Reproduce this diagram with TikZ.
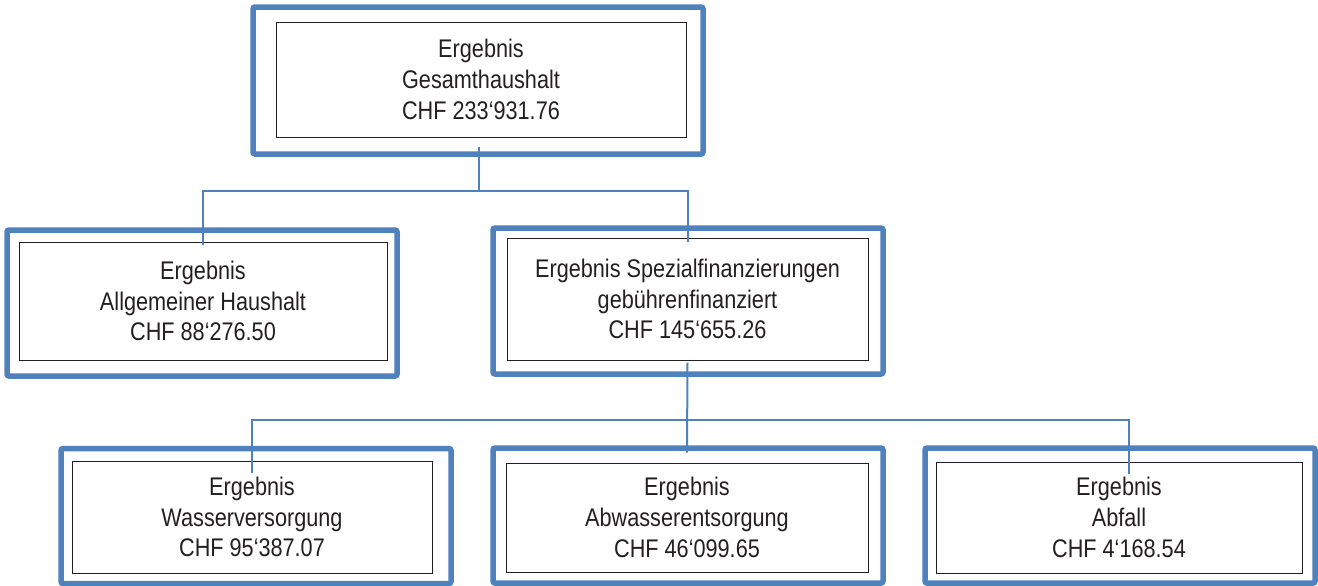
\documentclass[tikz,border=0pt]{standalone}
\usepackage{fontspec}
\setmainfont{Liberation Sans}[FakeStretch=0.85]
\usepackage{tikz}
\usetikzlibrary{calc}
\definecolor{rahmenblau}{HTML}{4F81BD}
\definecolor{tinte}{HTML}{231F20}

\begin{document}
\begin{tikzpicture}[x=0.5pt,y=-0.5pt,
  rahmen/.style={draw=rahmenblau, line width=2.75pt, rounded corners=1pt, inner sep=0pt, minimum width=195pt},
  feld/.style={draw=tinte, line width=0.5pt, text=tinte, align=center, inner sep=0pt,
    font=\fontsize{12.75}{15.4}\selectfont},
  linie/.style={draw=rahmenblau, line width=1pt}]
  \useasboundingbox (0,0) rectangle (1318,585);
  % Gesamthaushalt
  \node[rahmen, minimum width=225pt, minimum height=73.5pt] (gesamtR) at (478,80.5) {};
  \node[feld, minimum width=205pt, minimum height=57.5pt] (gesamt) at (481,79.5)
    {Ergebnis\\Gesamthaushalt\\CHF 233‘931.76};
  % zweite Ebene
  \node[rahmen, minimum height=73pt] (allgR) at (202,303) {};
  \node[feld, minimum width=184pt, minimum height=59pt] (allg) at (203,301)
    {Ergebnis\\Allgemeiner Haushalt\\CHF 88‘276.50};
  \node[rahmen, minimum height=73pt] (spezR) at (688,301) {};
  \node[feld, minimum width=180.5pt, minimum height=61pt] (spez) at (687.5,299)
    {Ergebnis Spezialfinanzierungen\\gebührenfinanziert\\CHF 145‘655.26};
  % Spezialfinanzierungen
  \node[rahmen, minimum height=67.5pt] (wasserR) at (256,516) {};
  \node[feld, minimum width=180pt, minimum height=56pt] (wasser) at (252,517)
    {Ergebnis\\Wasserversorgung\\CHF 95‘387.07};
  \node[rahmen, minimum height=67.5pt] (abwasserR) at (688,515.5) {};
  \node[feld, minimum width=181pt, minimum height=54.5pt] (abwasser) at (687,517.5)
    {Ergebnis\\Abwasserentsorgung\\CHF 46‘099.65};
  \node[rahmen, minimum height=67.5pt] (abfallR) at (1120,515.5) {};
  \node[feld, minimum width=183pt, minimum height=55.5pt] (abfall) at (1119,517.5)
    {Ergebnis\\Abfall\\CHF 4‘168.54};
  %
  % Verbindungen:
  \draw[linie] ($(gesamt.south)+(-2,9)$) -- ++(0,44) coordinate (knotenO);
  \draw[linie] ($(allg.north)+(0,3)$) |- (knotenO) -| ($(spez.north)+(0,4)$);
  \draw[linie] ($(spez.south)+(0,2)$) -- ($(abwasser.north)+(0,-10)$);
  \coordinate (knotenU) at ($(spez.south)+(0,59)$);
  \draw[linie] ($(wasser.north)+(0,12)$) |- (knotenU) -| ($(abfall.north)+(10,12)$);
\end{tikzpicture}
\end{document}
